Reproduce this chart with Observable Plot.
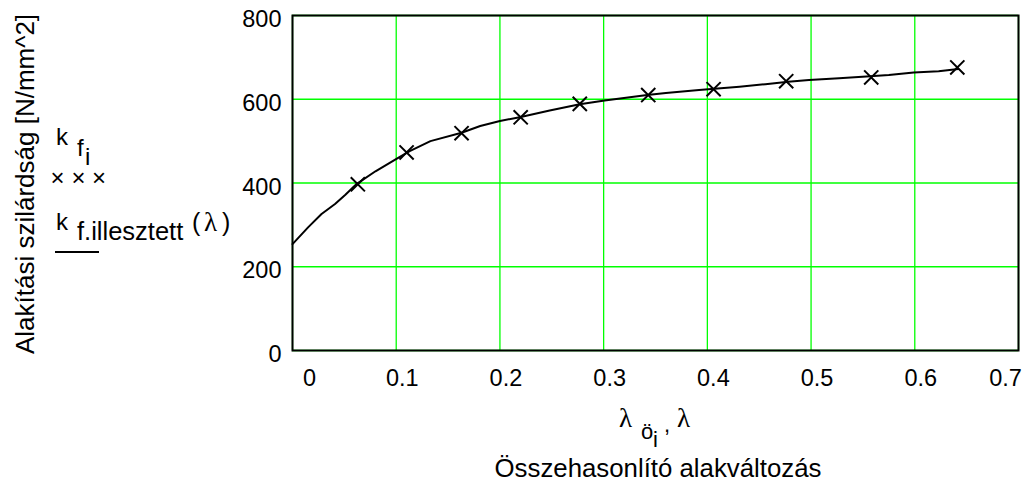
<!DOCTYPE html>
<html>
<head>
<meta charset="utf-8">
<script src="https://cdn.jsdelivr.net/npm/d3@7"></script>
<script src="https://cdn.jsdelivr.net/npm/@observablehq/plot@0.6"></script>
<style>
  html, body { margin: 0; padding: 0; background: white; }
</style>
</head>
<body>
<div id="chart"></div>
<script>
// Measured points (λ_ö,i ; k_f,i)
const lambdaOi = [0.063, 0.110, 0.163, 0.220, 0.277, 0.343, 0.406, 0.476, 0.558, 0.641];
const kfi      = [397,   473,   519,   557,   589,   610,   624,   643,   652,   676];

// Fitted curve k_f.illesztett(λ)
const lambdaFit = [0, 0.015, 0.028, 0.041, 0.051, 0.062, 0.080, 0.099, 0.113, 0.133, 0.163, 0.181, 0.200, 0.219, 0.248, 0.277, 0.301, 0.342, 0.360, 0.392, 0.431, 0.456, 0.478, 0.498, 0.527, 0.557, 0.575, 0.599, 0.623, 0.642];
const kFit      = [254, 294, 326, 350, 372, 398, 428, 456, 476, 500, 520, 536, 548, 557, 573, 588, 597, 610, 615, 622, 630, 636, 642, 646, 650, 655, 658, 664, 667, 672];

// Ticks
const xTicks = [0, 0.1, 0.2, 0.3, 0.4, 0.5, 0.6, 0.7];
const xTickLabels = ["0", "0.1", "0.2", "0.3", "0.4", "0.5", "0.6", "0.7"];
const yTicks = [0, 200, 400, 600, 800];
const yTickLabels = ["0", "200", "400", "600", "800"];

const points = lambdaOi.map((x, i) => ({x, y: kfi[i]}));
const curve = lambdaFit.map((x, i) => ({x, y: kFit[i]}));
const xFmt = d => xTickLabels[xTicks.indexOf(d)];
const yFmt = d => yTickLabels[yTicks.indexOf(d)];

const font = "'Liberation Sans', Arial, sans-serif";
const tickFont = 23.5;

const chart = Plot.plot({
  width: 1028,
  height: 482,
  marginLeft: 292,
  marginRight: 10,
  marginTop: 15,
  marginBottom: 132,
  x: {domain: [0, 0.7]},
  y: {domain: [0, 800]},
  style: {fontFamily: font, fontSize: tickFont + "px", background: "white", color: "black"},
  marks: [
    Plot.gridX(xTicks, {stroke: "#00ff00", strokeOpacity: 1, strokeWidth: 1.3}),
    Plot.gridY(yTicks, {stroke: "#00ff00", strokeOpacity: 1, strokeWidth: 1.3}),
    Plot.line(curve, {x: "x", y: "y", stroke: "black", strokeWidth: 2}),
    Plot.dot(points, {x: "x", y: "y", symbol: "times", r: 6.5, stroke: "black", strokeWidth: 2}),
    Plot.frame({stroke: "black", strokeWidth: 2}),
    Plot.axisY(yTicks, {tickSize: 0, tickPadding: 11, dy: 4, tickFormat: yFmt, label: null, fontSize: tickFont}),
    Plot.axisX([xTicks[0]], {tickSize: 0, tickPadding: 19, dx: 17, tickFormat: xFmt, label: null, fontSize: tickFont}),
    Plot.axisX(xTicks.slice(1, -1), {tickSize: 0, tickPadding: 19, dx: 6, tickFormat: xFmt, label: null, fontSize: tickFont}),
    Plot.axisX([xTicks[xTicks.length - 1]], {tickSize: 0, tickPadding: 19, dx: -13, tickFormat: xFmt, label: null, fontSize: tickFont})
  ]
});

const svg = d3.select(chart);
const serif = "'Liberation Serif', 'Times New Roman', serif";
function txt(x, y, s, opts = {}) {
  const t = svg.append("text")
    .attr("x", x).attr("y", y)
    .attr("font-family", opts.family || font)
    .attr("font-size", opts.size || 22)
    .attr("fill", "black")
    .attr("text-anchor", opts.anchor || "start")
    .text(s);
  if (opts.transform) t.attr("transform", opts.transform);
  return t;
}

// Y axis title (rotated)
txt(0, 0, "Alakítási szilárdság [N/mm^2]", {anchor: "middle", size: 26, transform: "translate(34,184) rotate(-90)"});

// Legend
txt(56, 145, "k", {size: 24});
txt(77, 156, "f", {size: 24});
txt(85, 165, "i", {size: 24});
txt(57.5, 186, "×", {size: 24, anchor: "middle"});
txt(78.5, 186, "×", {size: 24, anchor: "middle"});
txt(99, 186, "×", {size: 24, anchor: "middle"});
txt(56, 230, "k", {size: 24});
txt(77, 240, "f.illesztett", {size: 25.5});
txt(192, 231, "(", {size: 25});
txt(204, 231, "λ", {size: 27, family: serif});
txt(222, 231, ")", {size: 25});
svg.append("line").attr("x1", 55).attr("x2", 99).attr("y1", 252).attr("y2", 252)
  .attr("stroke", "black").attr("stroke-width", 2);

// X axis title
txt(619, 427, "λ", {size: 27, family: serif});
txt(641, 439, "ö", {size: 22});
txt(653, 447, "i", {size: 22});
txt(664, 432, ",", {size: 22});
txt(677, 427, "λ", {size: 27, family: serif});
txt(658, 477, "Összehasonlító alakváltozás", {anchor: "middle", size: 25.8});

document.getElementById("chart").appendChild(chart);
</script>
</body>
</html>
